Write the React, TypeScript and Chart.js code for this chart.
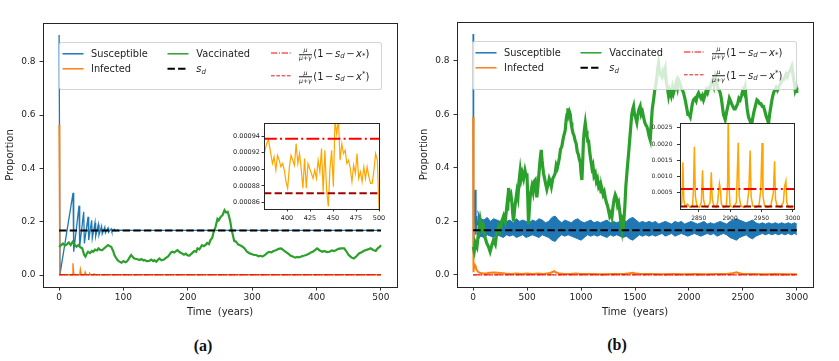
import React, { useEffect, useRef } from 'react';
import { Chart, registerables } from 'chart.js';
Chart.register(...registerables);

const FONT = '"DejaVu Sans", "Liberation Sans", sans-serif';
const INK = '#1e1e1e';
const C_S = '#1f77b4';
const C_I = '#ff7f0e';
const C_V = '#2ca02c';
const C_INSET = '#ffa500';
const C_RED = '#ff0000';
const C_RED2 = '#d42020';
const C_DARKRED = '#a00000';

// ---------------- Panel (a) data ----------------
const spanA = [0, 500];
const sdLevel = 0.167;
const lowerLevelA = 0.000937; // mu/(mu+gamma)(1 - s_d - x_*)
const upperLevelA = 0.000871; // mu/(mu+gamma)(1 - s_d - x^*)

const timeA_S = [0, 1.5, 21.7, 22.7, 31, 32, 38.2, 39.3, 45, 46, 50.6, 51.6, 55.8, 56.8, 61, 62, 66, 67, 71, 72, 76, 77, 81, 82, 86, 87, 91, 92, 96, 100, 500];
const susceptibleA = [0.9, 0.004, 0.308, 0.087, 0.26, 0.106, 0.237, 0.118, 0.218, 0.131, 0.205, 0.138, 0.196, 0.145, 0.189, 0.15, 0.183, 0.154, 0.179, 0.158, 0.176, 0.161, 0.173, 0.163, 0.171, 0.165, 0.169, 0.166, 0.168, 0.167, 0.167];

const timeA_I = [0, 1, 20.5, 21.5, 23, 32, 33, 34.5, 39.5, 40.5, 42, 46.5, 47.5, 49, 53.5, 54.5, 56, 70, 100, 200, 300, 400, 500];
const infectedA = [0.563, 0.001, 0.001, 0.044, 0.001, 0.001, 0.021, 0.001, 0.001, 0.011, 0.001, 0.001, 0.006, 0.001, 0.001, 0.004, 0.001, 0.001, 0.0009, 0.0009, 0.0009, 0.0009, 0.0009];

const timeA_V = [0, 3, 6, 9, 12, 15, 18, 21, 24, 27, 30, 33, 36, 39, 41, 43, 45, 48, 51, 53, 56, 59, 61, 64, 67, 70, 73, 76, 79, 81, 84, 86, 89, 92, 94, 97, 100, 103, 105, 107, 110, 112, 115, 117, 120, 123, 125, 128, 131, 133, 136, 140, 143, 146, 148, 151, 154, 156, 159, 163, 166, 169, 172, 174, 176, 179, 182, 184, 187, 191, 194, 197, 199, 202, 205, 207, 210, 213, 215, 218, 222, 225, 228, 230, 233, 235, 238, 240, 243, 246, 248, 251, 254, 257, 259, 262, 264, 266, 268, 270, 272, 275, 278, 281, 285, 288, 292, 296, 300, 303, 306, 310, 313, 316, 320, 323, 326, 330, 333, 337, 341, 345, 348, 352, 356, 360, 363, 367, 370, 373, 377, 380, 384, 388, 391, 394, 398, 401, 405, 409, 412, 416, 420, 424, 427, 430, 434, 438, 443, 446, 450, 454, 458, 462, 466, 470, 473, 476, 480, 484, 488, 492, 495, 498, 500];
const vaccinatedA = [0.105, 0.112, 0.118, 0.11, 0.115, 0.122, 0.112, 0.124, 0.115, 0.106, 0.112, 0.104, 0.1, 0.075, 0.069, 0.08, 0.087, 0.082, 0.09, 0.087, 0.095, 0.092, 0.1, 0.094, 0.093, 0.1, 0.106, 0.112, 0.108, 0.106, 0.09, 0.075, 0.062, 0.053, 0.05, 0.046, 0.052, 0.048, 0.05, 0.056, 0.068, 0.075, 0.066, 0.062, 0.06, 0.058, 0.056, 0.06, 0.054, 0.056, 0.052, 0.053, 0.058, 0.052, 0.056, 0.05, 0.058, 0.062, 0.055, 0.058, 0.064, 0.069, 0.078, 0.085, 0.087, 0.084, 0.09, 0.093, 0.086, 0.081, 0.076, 0.08, 0.075, 0.072, 0.078, 0.083, 0.09, 0.087, 0.1, 0.096, 0.112, 0.108, 0.114, 0.12, 0.116, 0.13, 0.14, 0.16, 0.18, 0.21, 0.205, 0.218, 0.225, 0.243, 0.235, 0.237, 0.22, 0.2, 0.17, 0.15, 0.128, 0.125, 0.115, 0.112, 0.106, 0.1, 0.087, 0.081, 0.078, 0.075, 0.075, 0.07, 0.072, 0.069, 0.075, 0.082, 0.087, 0.085, 0.09, 0.093, 0.098, 0.1, 0.094, 0.087, 0.08, 0.072, 0.069, 0.065, 0.068, 0.066, 0.07, 0.072, 0.075, 0.08, 0.084, 0.087, 0.094, 0.1, 0.092, 0.087, 0.09, 0.086, 0.087, 0.092, 0.09, 0.093, 0.098, 0.1, 0.1, 0.09, 0.075, 0.066, 0.062, 0.07, 0.081, 0.085, 0.09, 0.093, 0.096, 0.1, 0.094, 0.09, 0.1, 0.105, 0.112];

// inset (a): infected, years 375-500
const insetATimes = [374.3, 376.1, 377.9, 379.8, 382.4, 384.2, 386.0, 387.9, 389.7, 391.5, 393.4, 395.2, 397.1, 398.9, 400.7, 402.6, 404.4, 406.3, 408.1, 409.9, 411.8, 413.6, 415.4, 417.3, 419.1, 421.0, 422.8, 424.6, 426.5, 428.3, 430.1, 432.0, 433.8, 435.7, 437.5, 439.3, 441.2, 443.0, 444.9, 446.7, 448.5, 450.4, 452.2, 454.0, 455.9, 457.7, 459.6, 461.4, 463.2, 465.1, 466.9, 468.8, 470.6, 472.4, 474.3, 476.1, 477.9, 479.8, 481.6, 483.5, 485.3, 487.1, 489.0, 490.8, 492.6, 494.5, 496.3, 498.2, 500.0];
const insetAInfected = [0.000931, 0.000923, 0.000931, 0.000936, 0.000919, 0.000907, 0.000915, 0.000899, 0.000917, 0.000911, 0.000903, 0.000907, 0.000899, 0.000885, 0.000877, 0.000903, 0.000917, 0.000911, 0.000905, 0.000931, 0.000907, 0.000919, 0.000901, 0.000877, 0.000913, 0.000877, 0.000907, 0.000901, 0.000895, 0.000889, 0.000899, 0.000889, 0.000911, 0.000897, 0.000925, 0.000873, 0.000923, 0.000875, 0.000855, 0.000901, 0.000923, 0.000879, 0.00096, 0.000943, 0.00096, 0.000911, 0.000931, 0.000919, 0.000923, 0.000907, 0.000911, 0.000901, 0.000885, 0.000905, 0.000895, 0.000919, 0.000889, 0.000897, 0.000885, 0.000903, 0.000889, 0.000903, 0.000891, 0.000883, 0.000883, 0.000899, 0.000919, 0.000911, 0.000852];
const insetASpan = [375, 500];

// ---------------- Panel (b) data ----------------
const spanB = [0, 3000];
const lowerLevelB = 0.00062;
const upperLevelB = 0.00008;

const timeB_Sstart = [0, 3, 10, 18, 25, 32, 40];
const susceptibleBStart = [0.9, 0.08, 0.22, 0.318, 0.15, 0.22, 0.185];

const timeB_band = [40, 70, 100, 130, 160, 190, 220, 250, 280, 310, 340, 370, 400, 430, 460, 490, 520, 550, 580, 610, 640, 670, 700, 730, 760, 790, 820, 850, 880, 910, 940, 970, 1000, 1030, 1060, 1090, 1120, 1150, 1180, 1210, 1240, 1270, 1300, 1330, 1360, 1390, 1420, 1450, 1480, 1510, 1540, 1570, 1600, 1630, 1660, 1690, 1720, 1750, 1780, 1810, 1840, 1870, 1900, 1930, 1960, 1990, 2020, 2050, 2080, 2110, 2140, 2170, 2200, 2230, 2260, 2290, 2320, 2350, 2380, 2410, 2440, 2470, 2500, 2530, 2560, 2590, 2620, 2650, 2680, 2710, 2740, 2770, 2800, 2830, 2860, 2890, 2920, 2950, 2980, 3000];
const susceptibleBUpper = [
  0.24, 0.21, 0.205, 0.215, 0.2, 0.21, 0.205, 0.2, 0.21, 0.2,
  0.205, 0.195, 0.21, 0.2, 0.205, 0.2, 0.195, 0.205, 0.2, 0.21,
  0.205, 0.195, 0.2, 0.215, 0.22, 0.205, 0.195, 0.205, 0.2, 0.195,
  0.205, 0.21, 0.2, 0.195, 0.2, 0.205, 0.195, 0.2, 0.195, 0.2,
  0.205, 0.195, 0.2, 0.195, 0.2, 0.205, 0.2, 0.21, 0.215, 0.205,
  0.195, 0.2, 0.195, 0.2, 0.195, 0.2, 0.19, 0.195, 0.2, 0.195,
  0.19, 0.2, 0.195, 0.2, 0.19, 0.195, 0.2, 0.195, 0.19, 0.195,
  0.2, 0.19, 0.195, 0.19, 0.195, 0.2, 0.195, 0.19, 0.2, 0.205,
  0.21, 0.205, 0.2, 0.195, 0.2, 0.205, 0.195, 0.19, 0.195, 0.19,
  0.195, 0.19, 0.195, 0.19, 0.195, 0.19, 0.195, 0.19, 0.195, 0.19];
const susceptibleBLower = [
  0.13, 0.145, 0.14, 0.15, 0.145, 0.14, 0.15, 0.145, 0.14, 0.15,
  0.145, 0.15, 0.14, 0.145, 0.15, 0.14, 0.145, 0.15, 0.145, 0.14,
  0.15, 0.145, 0.14, 0.13, 0.125, 0.14, 0.15, 0.145, 0.15, 0.145,
  0.14, 0.135, 0.13, 0.14, 0.15, 0.145, 0.15, 0.145, 0.15, 0.145,
  0.14, 0.15, 0.145, 0.15, 0.145, 0.14, 0.145, 0.135, 0.13, 0.14,
  0.15, 0.145, 0.15, 0.145, 0.15, 0.145, 0.15, 0.155, 0.145, 0.15,
  0.155, 0.145, 0.15, 0.155, 0.15, 0.145, 0.15, 0.155, 0.15, 0.145,
  0.15, 0.155, 0.15, 0.155, 0.145, 0.15, 0.155, 0.15, 0.14, 0.135,
  0.13, 0.14, 0.145, 0.15, 0.14, 0.135, 0.145, 0.15, 0.155, 0.15,
  0.155, 0.15, 0.155, 0.15, 0.155, 0.15, 0.155, 0.15, 0.155, 0.15];

const timeB_I = [0, 3, 10, 20, 30, 45, 60, 80, 110, 150, 200, 250, 300, 350, 400, 450, 500, 550, 600, 650, 700, 730, 750, 770, 800, 850, 900, 950, 1000, 1100, 1200, 1300, 1400, 1450, 1480, 1510, 1550, 1650, 1750, 1850, 1950, 2050, 2150, 2250, 2350, 2400, 2440, 2470, 2500, 2600, 2700, 2800, 2900, 3000];
const infectedB = [0.59, 0.01, 0.04, 0.035, 0.02, 0.012, 0.008, 0.006, 0.005, 0.008, 0.009, 0.007, 0.005, 0.004, 0.005, 0.004, 0.005, 0.004, 0.005, 0.004, 0.006, 0.01, 0.014, 0.009, 0.005, 0.004, 0.004, 0.005, 0.004, 0.004, 0.003, 0.004, 0.004, 0.006, 0.008, 0.005, 0.004, 0.004, 0.003, 0.004, 0.003, 0.004, 0.003, 0.004, 0.004, 0.006, 0.01, 0.006, 0.004, 0.004, 0.003, 0.004, 0.003, 0.003];

const timeB_V = [0, 10, 20, 35, 50, 65, 80, 93, 110, 125, 142, 157, 172, 188, 205, 220, 235, 250, 265, 282, 297, 313, 320, 328, 340, 350, 359, 366, 374, 385, 395, 405, 415, 425, 436, 445, 455, 467, 480, 490, 498, 505, 513, 520, 530, 544, 555, 565, 575, 583, 590, 600, 610, 620, 631, 640, 652, 662, 672, 683, 695, 705, 714, 725, 738, 750, 760, 770, 780, 791, 800, 810, 822, 830, 840, 853, 862, 870, 878, 885, 892, 900, 907, 915, 925, 935, 946, 955, 965, 975, 985, 993, 1000, 1008, 1015, 1022, 1030, 1039, 1047, 1055, 1062, 1070, 1080, 1090, 1101, 1110, 1120, 1132, 1142, 1152, 1163, 1175, 1185, 1194, 1205, 1215, 1224, 1235, 1245, 1255, 1265, 1275, 1286, 1295, 1305, 1317, 1327, 1338, 1348, 1358, 1368, 1379, 1386, 1394, 1405, 1415, 1425, 1433, 1441, 1450, 1460, 1470, 1480, 1487, 1495, 1505, 1517, 1527, 1538, 1548, 1558, 1569, 1579, 1590, 1600, 1610, 1620, 1630, 1641, 1650, 1660, 1672, 1683, 1693, 1703, 1710, 1718, 1726, 1735, 1749, 1758, 1768, 1780, 1790, 1800, 1811, 1820, 1835, 1847, 1857, 1870, 1882, 1893, 1903, 1915, 1928, 1940, 1950, 1962, 1972, 1981, 1990, 2000, 2012, 2020, 2032, 2042, 2055, 2067, 2078, 2089, 2100, 2112, 2124, 2135, 2148, 2160, 2172, 2185, 2197, 2210, 2222, 2232, 2243, 2255, 2267, 2280, 2290, 2300, 2310, 2320, 2328, 2336, 2345, 2355, 2366, 2375, 2382, 2395, 2407, 2418, 2429, 2440, 2452, 2463, 2475, 2487, 2500, 2510, 2521, 2530, 2540, 2552, 2562, 2572, 2583, 2593, 2603, 2615, 2630, 2642, 2655, 2667, 2680, 2691, 2705, 2718, 2728, 2738, 2748, 2760, 2772, 2784, 2795, 2808, 2820, 2830, 2842, 2855, 2866, 2877, 2890, 2900, 2912, 2923, 2933, 2944, 2954, 2964, 2975, 2985, 2993, 3000];
const vaccinatedB = [0.105, 0.09, 0.12, 0.105, 0.16, 0.205, 0.17, 0.185, 0.14, 0.12, 0.105, 0.087, 0.11, 0.13, 0.115, 0.16, 0.18, 0.165, 0.2, 0.22, 0.2, 0.26, 0.24, 0.325, 0.29, 0.3, 0.27, 0.23, 0.2, 0.25, 0.28, 0.31, 0.29, 0.35, 0.39, 0.36, 0.38, 0.36, 0.39, 0.37, 0.38, 0.3, 0.19, 0.24, 0.3, 0.33, 0.31, 0.35, 0.355, 0.32, 0.29, 0.33, 0.38, 0.43, 0.467, 0.42, 0.38, 0.36, 0.34, 0.32, 0.34, 0.36, 0.35, 0.33, 0.36, 0.37, 0.38, 0.41, 0.4, 0.42, 0.44, 0.47, 0.48, 0.5, 0.52, 0.54, 0.58, 0.6, 0.623, 0.6, 0.61, 0.6, 0.57, 0.55, 0.53, 0.52, 0.5, 0.49, 0.46, 0.45, 0.43, 0.42, 0.38, 0.355, 0.42, 0.5, 0.54, 0.567, 0.54, 0.52, 0.5, 0.5, 0.46, 0.43, 0.4, 0.41, 0.37, 0.38, 0.35, 0.36, 0.33, 0.34, 0.31, 0.32, 0.3, 0.31, 0.29, 0.27, 0.26, 0.24, 0.22, 0.23, 0.215, 0.25, 0.28, 0.3, 0.29, 0.26, 0.27, 0.24, 0.2, 0.17, 0.2, 0.19, 0.25, 0.33, 0.38, 0.42, 0.455, 0.5, 0.55, 0.6, 0.62, 0.63, 0.6, 0.59, 0.57, 0.6, 0.62, 0.63, 0.6, 0.61, 0.59, 0.57, 0.56, 0.555, 0.54, 0.52, 0.505, 0.56, 0.62, 0.654, 0.69, 0.71, 0.74, 0.77, 0.79, 0.76, 0.75, 0.74, 0.76, 0.75, 0.77, 0.72, 0.7, 0.67, 0.69, 0.67, 0.7, 0.68, 0.7, 0.72, 0.7, 0.73, 0.72, 0.7, 0.69, 0.68, 0.66, 0.64, 0.62, 0.6, 0.6, 0.59, 0.61, 0.64, 0.654, 0.66, 0.65, 0.67, 0.68, 0.67, 0.66, 0.67, 0.654, 0.67, 0.69, 0.68, 0.7, 0.7, 0.72, 0.73, 0.71, 0.74, 0.72, 0.7, 0.69, 0.68, 0.66, 0.63, 0.6, 0.59, 0.58, 0.6, 0.62, 0.64, 0.66, 0.654, 0.64, 0.63, 0.62, 0.62, 0.63, 0.64, 0.66, 0.654, 0.67, 0.69, 0.68, 0.7, 0.66, 0.62, 0.59, 0.58, 0.57, 0.567, 0.59, 0.61, 0.63, 0.654, 0.65, 0.64, 0.64, 0.63, 0.63, 0.61, 0.59, 0.58, 0.567, 0.6, 0.63, 0.66, 0.68, 0.69, 0.7, 0.69, 0.7, 0.71, 0.72, 0.73, 0.73, 0.74, 0.75, 0.74, 0.754, 0.76, 0.77, 0.78, 0.75, 0.72, 0.69, 0.7, 0.68];

// inset (b): infected, years 2820-3000
const insetBTimes = [2820, 2823, 2824.6, 2826, 2828, 2832, 2836, 2840, 2841.5, 2843, 2844.5, 2847, 2851, 2854, 2856, 2857.5, 2860, 2864, 2868, 2870, 2871.5, 2874, 2878, 2880, 2882, 2883, 2884.5, 2886, 2890, 2894, 2896, 2897, 2898.5, 2900, 2905, 2910, 2913, 2914.5, 2917, 2922, 2927, 2930, 2932, 2933.5, 2936, 2941, 2946, 2949, 2951, 2952.5, 2955, 2960, 2965, 2969, 2971, 2972.5, 2975, 2980, 2985, 2987, 2989, 2990.5, 2993, 3000];
const insetBInfected = [0.00005, 0.0002, 0.00144, 0.0003, 0.00008, 0.00015, 0.00005, 0.0001, 0.0006, 0.00192, 0.0004, 0.0001, 0.00005, 0.0002, 0.00119, 0.0003, 0.00008, 0.00006, 0.0002, 0.00113, 0.0003, 0.0001, 0.00005, 0.0002, 0.0006, 0.00078, 0.0006, 0.00015, 0.00005, 0.0001, 0.0008, 0.0029, 0.0006, 0.0001, 0.00005, 0.0002, 0.00204, 0.0004, 0.0001, 0.00005, 0.0001, 0.0006, 0.0018, 0.0004, 0.0001, 0.00005, 0.0001, 0.0006, 0.00203, 0.0004, 0.0001, 0.00005, 0.0001, 0.0005, 0.00147, 0.0003, 0.0001, 0.00005, 0.0002, 0.0007, 0.00086, 0.0002, 0.00005, 0.00003];
const insetBSpan = [2820, 3002];

// tick values
const mainYTicks = [0, 0.2, 0.4, 0.6, 0.8];
const mainAXTicks = [0, 100, 200, 300, 400, 500];
const mainBXTicks = [0, 500, 1000, 1500, 2000, 2500, 3000];
const insetAXTicks = [400, 425, 450, 475, 500];
const insetAYTicks = [0.00086, 0.00088, 0.0009, 0.00092, 0.00094];
const insetBXTicks = [2850, 2900, 2950, 3000];
const insetBYTicks = [0.0005, 0.001, 0.0015, 0.002, 0.0025];

// ---------------- helpers ----------------
type Pt = { x: number; y: number };
const zip = (xs: number[], ys: number[]): Pt[] => xs.map((x, i) => ({ x, y: ys[i] }));
const level = (span: number[], v: number): Pt[] => span.map((x) => ({ x, y: v }));

const DASH = [7.4, 3.2];
const DASH_THIN = [3.7, 1.6];
const DASHDOT_THIN = [6.4, 1.6, 1, 1.6];
const DASHDOT_THICK = [12.8, 3.2, 2, 3.2];

const ds = (data: Pt[], color: string, width: number, dash: number[] = [], extra: any = {}) => ({
  data,
  borderColor: color,
  backgroundColor: color,
  borderWidth: width,
  borderDash: dash,
  pointRadius: 0,
  pointHoverRadius: 0,
  fill: false,
  tension: 0,
  ...extra,
});

const framePlugin = {
  id: 'frame',
  beforeDraw(chart: any, _a: any, opts: any) {
    if (!opts || !opts.bg) return;
    const { ctx, chartArea: a } = chart;
    ctx.save();
    ctx.fillStyle = '#ffffff';
    ctx.fillRect(a.left, a.top, a.right - a.left, a.bottom - a.top);
    ctx.restore();
  },
  afterDraw(chart: any, _a: any, opts: any) {
    const { ctx, chartArea: a } = chart;
    ctx.save();
    ctx.strokeStyle = '#262626';
    ctx.lineWidth = (opts && opts.width) || 1;
    ctx.strokeRect(Math.round(a.left) + 0.5, Math.round(a.top) + 0.5, Math.round(a.right - a.left), Math.round(a.bottom - a.top));
    ctx.restore();
  },
};

type AxisP = {
  min: number; max: number; ticks: number[]; size: number; font: number;
  tick: number; pad: number; fmt: (v: number) => string; title?: string;
};

const axis = (p: AxisP, horizontal: boolean) => ({
  type: 'linear',
  min: p.min,
  max: p.max,
  afterBuildTicks: (s: any) => { s.ticks = p.ticks.map((v) => ({ value: v })); },
  afterFit: (s: any) => { if (horizontal) s.height = p.size; else s.width = p.size; },
  ticks: {
    font: { family: FONT, size: p.font },
    color: INK,
    padding: p.pad,
    maxRotation: 0,
    autoSkip: false,
    callback: (v: any) => p.fmt(Number(v)),
  },
  grid: { display: true, drawOnChartArea: false, tickLength: p.tick, color: INK, lineWidth: 0.9 },
  border: { display: false },
  title: p.title
    ? { display: true, text: p.title, font: { family: FONT, size: 10 }, color: INK, padding: { top: 4, bottom: 4 } }
    : { display: false },
});

const options = (padTop: number, padRight: number, x: AxisP, y: AxisP, bg: boolean) => ({
  responsive: false,
  maintainAspectRatio: false,
  animation: false,
  devicePixelRatio: 1,
  events: [],
  layout: { padding: { left: 0, top: padTop, right: padRight, bottom: 0 } },
  plugins: { legend: { display: false }, tooltip: { enabled: false }, frame: { bg, width: 1 } },
  scales: { x: axis(x, true), y: axis(y, false) },
});

const f1 = (v: number) => v.toFixed(1);
const fInt = (v: number) => String(Math.round(v));

// ---------------- chart configs ----------------
const configMainA = () => ({
  type: 'line',
  data: {
    datasets: [
      ds(level(spanA, upperLevelA), C_RED2, 1, DASH_THIN),
      ds(level(spanA, lowerLevelA), C_RED, 1, DASHDOT_THIN),
      ds(level(spanA, sdLevel), '#000000', 2, DASH),
      ds(zip(timeA_V, vaccinatedA), C_V, 2.2),
      ds(zip(timeA_I, infectedA), C_I, 1.3),
      ds(zip(timeA_S, susceptibleA), C_S, 1.3),
    ],
  },
  options: options(
    23, 23,
    { min: -25, max: 525, ticks: mainAXTicks, size: 35, font: 9, tick: 3.5, pad: 2, fmt: fInt, title: 'Time  (years)' },
    { min: -0.045, max: 0.945, ticks: mainYTicks, size: 43, font: 9, tick: 3.5, pad: 4, fmt: f1, title: 'Proportion' },
    false,
  ),
  plugins: [framePlugin],
});

const configMainB = () => ({
  type: 'line',
  data: {
    datasets: [
      ds(level(spanB, upperLevelB), C_RED2, 1, DASH_THIN),
      ds(level(spanB, lowerLevelB), C_RED, 1, DASHDOT_THIN),
      ds(level(spanB, sdLevel), '#000000', 2, DASH),
      ds(zip(timeB_V, vaccinatedB), C_V, 3.2),
      ds(zip(timeB_I, infectedB), C_I, 2),
      ds(zip(timeB_band, susceptibleBUpper), C_S, 1, [], { fill: '+1' }),
      ds(zip(timeB_band, susceptibleBLower), C_S, 1),
      ds(zip(timeB_Sstart, susceptibleBStart), C_S, 1.5),
    ],
  },
  options: options(
    22, 26,
    { min: -150, max: 3150, ticks: mainBXTicks, size: 35, font: 9, tick: 3.5, pad: 2, fmt: fInt, title: 'Time  (years)' },
    { min: -0.045, max: 0.945, ticks: mainYTicks, size: 43, font: 9, tick: 3.5, pad: 4, fmt: f1, title: 'Proportion' },
    false,
  ),
  plugins: [framePlugin],
});

const configInsetA = () => ({
  type: 'line',
  data: {
    datasets: [
      ds(level(insetASpan, upperLevelA), C_DARKRED, 2, DASH),
      ds(level(insetASpan, lowerLevelA), C_RED, 2, DASHDOT_THICK),
      ds(zip(insetATimes, insetAInfected), C_INSET, 1.2),
    ],
  },
  options: options(
    13, 11,
    { min: 375, max: 500, ticks: insetAXTicks, size: 21, font: 6.5, tick: 2.5, pad: 3, fmt: fInt },
    { min: 0.000852, max: 0.000956, ticks: insetAYTicks, size: 44, font: 6.5, tick: 2.5, pad: 1.5, fmt: (v) => v.toFixed(5) },
    true,
  ),
  plugins: [framePlugin],
});

const configInsetB = () => ({
  type: 'line',
  data: {
    datasets: [
      ds(level(insetBSpan, upperLevelB), C_DARKRED, 2, DASH),
      ds(level(insetBSpan, lowerLevelB), C_RED, 2, DASHDOT_THICK),
      ds(zip(insetBTimes, insetBInfected), C_INSET, 1.5),
    ],
  },
  options: options(
    13, 22,
    { min: 2820, max: 3002, ticks: insetBXTicks, size: 21, font: 6, tick: 3, pad: 3, fmt: fInt },
    { min: 0, max: 0.00265, ticks: insetBYTicks, size: 44, font: 6, tick: 3, pad: 4.5, fmt: (v) => v.toFixed(4) },
    true,
  ),
  plugins: [framePlugin],
});

// ---------------- components ----------------
function ChartCanvas({ left, top, width, height, build }: { left: number; top: number; width: number; height: number; build: () => any }) {
  const ref = useRef<HTMLCanvasElement>(null);
  useEffect(() => {
    const chart = new Chart(ref.current as HTMLCanvasElement, build());
    return () => chart.destroy();
  }, []);
  return (
    <canvas
      ref={ref}
      width={width}
      height={height}
      style={{ position: 'absolute', left, top, width, height, display: 'block' }}
    />
  );
}

function MathLabel({ star }: { star: 'sub' | 'sup' }) {
  const small = { fontSize: 7, fontStyle: 'italic' as const, position: 'relative' as const };
  return (
    <span style={{ display: 'inline-flex', alignItems: 'center', whiteSpace: 'nowrap', fontSize: 10 }}>
      <span style={{ display: 'inline-flex', flexDirection: 'column', alignItems: 'center', fontSize: 6.2, fontStyle: 'italic', lineHeight: '6.5px', marginRight: 1 }}>
        <span>μ</span>
        <span style={{ borderTop: `0.7px solid ${INK}`, padding: '0.5px 0.5px 0 0.5px' }}>μ+γ</span>
      </span>
      <span>(1</span>
      <span style={{ margin: '0 1.5px' }}>−</span>
      <span style={{ fontStyle: 'italic' }}>s</span>
      <span style={{ ...small, top: 2.5 }}>d</span>
      <span style={{ margin: '0 1.5px' }}>−</span>
      <span style={{ fontStyle: 'italic' }}>x</span>
      <span style={{ ...small, fontStyle: 'normal', top: star === 'sub' ? 2.5 : -3 }}>*</span>
      <span>)</span>
    </span>
  );
}

function Legend({ left, top, width, height }: { left: number; top: number; width: number; height: number }) {
  const r1 = 11.8;
  const r2 = 26.8;
  const m1 = 11;
  const m2 = 33.8;
  const text = (x: number, y: number, content: React.ReactNode) => (
    <div style={{ position: 'absolute', left: x, top: y, transform: 'translateY(-50%)', whiteSpace: 'nowrap', lineHeight: 1 }}>{content}</div>
  );
  return (
    <div
      style={{
        position: 'absolute', left, top, width, height, boxSizing: 'border-box',
        background: 'rgba(255,255,255,0.8)', border: '1px solid rgba(204,204,204,0.85)', borderRadius: 3,
        fontFamily: FONT, fontSize: 9.8, color: INK,
      }}
    >
      <svg width={width} height={height} style={{ position: 'absolute', left: -1, top: -1 }}>
        <line x1={3.5} x2={24.5} y1={r1} y2={r1} stroke={C_S} strokeWidth={1.5} />
        <line x1={3.5} x2={24.5} y1={r2} y2={r2} stroke={C_I} strokeWidth={1.5} />
        <line x1={108.5} x2={129.5} y1={r1} y2={r1} stroke={C_V} strokeWidth={1.5} />
        <line x1={108.5} x2={129.5} y1={r2} y2={r2} stroke="#000" strokeWidth={2} strokeDasharray={DASH.join(' ')} />
        <line x1={212} x2={232} y1={m1} y2={m1} stroke={C_RED} strokeWidth={1} strokeDasharray={DASHDOT_THIN.join(' ')} />
        <line x1={212} x2={232} y1={m2} y2={m2} stroke={C_RED2} strokeWidth={1} strokeDasharray={DASH_THIN.join(' ')} />
      </svg>
      {text(31, r1 - 1, 'Susceptible')}
      {text(31, r2 - 1, 'Infected')}
      {text(136.3, r1 - 1, 'Vaccinated')}
      {text(136.3, r2 - 1, <span><i>s</i><span style={{ fontSize: 7, fontStyle: 'italic', position: 'relative', top: 2.5 }}>d</span></span>)}
      {text(238.5, m1 - 1, <MathLabel star="sub" />)}
      {text(238.5, m2 - 1, <MathLabel star="sup" />)}
    </div>
  );
}

function Caption({ cx, cy, children }: { cx: number; cy: number; children: React.ReactNode }) {
  return (
    <div
      style={{
        position: 'absolute', left: cx, top: cy, transform: 'translate(-50%, -50%)',
        fontFamily: '"Liberation Serif", "Times New Roman", serif', fontWeight: 'bold', fontSize: 16, color: '#111', lineHeight: 1,
      }}
    >
      {children}
    </div>
  );
}

export default function App() {
  return (
    <div style={{ position: 'fixed', left: 0, top: 0, width: 839, height: 361, background: '#ffffff', overflow: 'hidden' }}>
      <ChartCanvas left={0} top={0} width={420} height={322} build={configMainA} />
      <ChartCanvas left={414} top={0} width={425} height={322} build={configMainB} />
      <Legend left={59} top={42} width={323} height={48} />
      <Legend left={472} top={41} width={325} height={49} />
      <ChartCanvas left={220} top={110} width={170} height={120} build={configInsetA} />
      <ChartCanvas left={636} top={110} width={180} height={120} build={configInsetB} />
      <Caption cx={203} cy={346}>(a)</Caption>
      <Caption cx={617} cy={345}>(b)</Caption>
    </div>
  );
}
